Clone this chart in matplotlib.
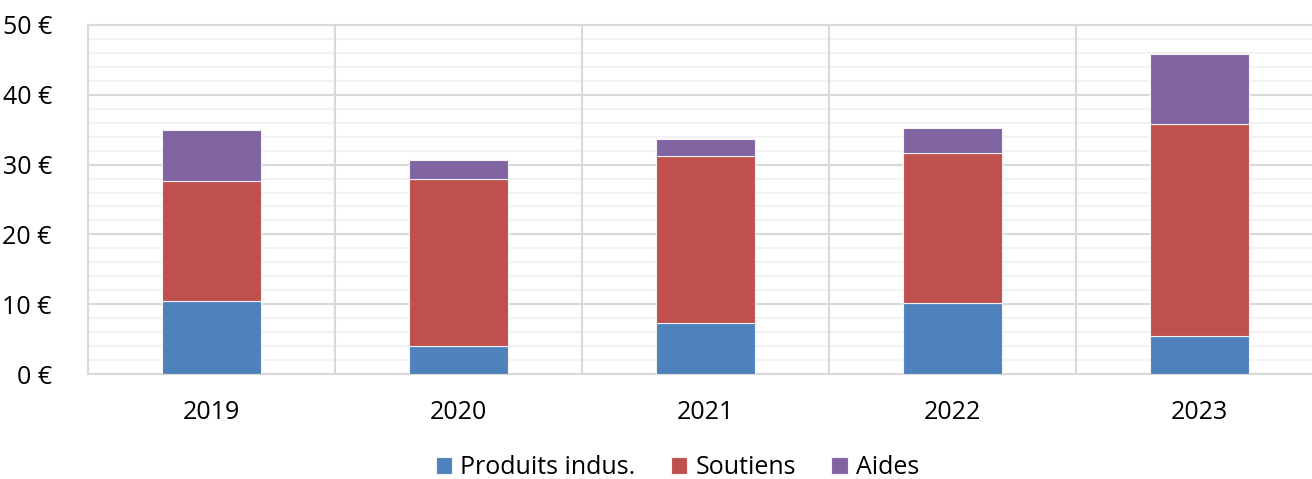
import matplotlib
matplotlib.use('Agg')
import matplotlib.pyplot as plt
import numpy as np

plt.rcParams['font.family'] = ['Open Sans', 'DejaVu Sans']

# Data (in euros)
years = ['2019', '2020', '2021', '2022', '2023']
produits = [10.5, 4.0, 7.3, 10.2, 5.5]
soutiens = [17.2, 24.0, 24.0, 21.4, 30.3]
aides = [7.2, 2.6, 2.4, 3.6, 10.1]
y_ticks = [0, 10, 20, 30, 40, 50]

colors = ['#4F81BD', '#C0504D', '#8064A2']
labels = ['Produits indus.', 'Soutiens', 'Aides']

W, H = 1312, 479
fig = plt.figure(figsize=(W / 100, H / 100), dpi=100)

# Plot area in pixels: left 88, right 1323 (cut by image edge), top 25, bottom 374
left, right, top, bottom = 88, 1323, 25, 374
ax = fig.add_axes([left / W, 1 - bottom / H, (right - left) / W, (bottom - top) / H])
ax.set_axisbelow(True)

x = np.arange(len(years))
bar_w = 0.4
bottoms = np.zeros(len(years))
for vals, col, lab in zip([produits, soutiens, aides], colors, labels):
    ax.bar(x, vals, bar_w, bottom=bottoms, color=col, label=lab,
           edgecolor='#F2F2F2', linewidth=0.8, zorder=3)
    bottoms += np.array(vals)

ax.set_xlim(-0.5, len(years) - 0.5)
ax.set_ylim(0, 50)

# Grid lines
ax.set_yticks(y_ticks)
ax.set_yticklabels([f'{v} €' for v in y_ticks])
ax.set_yticks(np.arange(0, 51, 2), minor=True)
ax.grid(axis='y', which='major', color='#D9D9D9', linewidth=1.5)
ax.grid(axis='y', which='minor', color='#F2F2F2', linewidth=1.5)
# vertical separators between categories
for b in np.arange(0.5, len(years) - 0.5, 1):
    ax.axvline(b, color='#D9D9D9', linewidth=1.5, zorder=2)

ax.set_xticks(x)
ax.set_xticklabels(years)

ax.tick_params(axis='both', which='both', length=0, labelsize=18, colors='black')
ax.tick_params(axis='y', pad=26)
ax.tick_params(axis='x', pad=19)

for side in ['top', 'left', 'bottom']:
    ax.spines[side].set_color('#D9D9D9')
    ax.spines[side].set_linewidth(1.5)
ax.spines['right'].set_visible(False)

handles, labs = ax.get_legend_handles_labels()
fig.legend(handles, labs, loc='upper center', bbox_to_anchor=(677.5 / W, 1 - 433 / H),
           ncol=3, frameon=False, fontsize=18, handlelength=0.65, handleheight=0.65,
           handletextpad=0.35, columnspacing=1.4)

plt.savefig('out.png', dpi=100)
plt.close()
